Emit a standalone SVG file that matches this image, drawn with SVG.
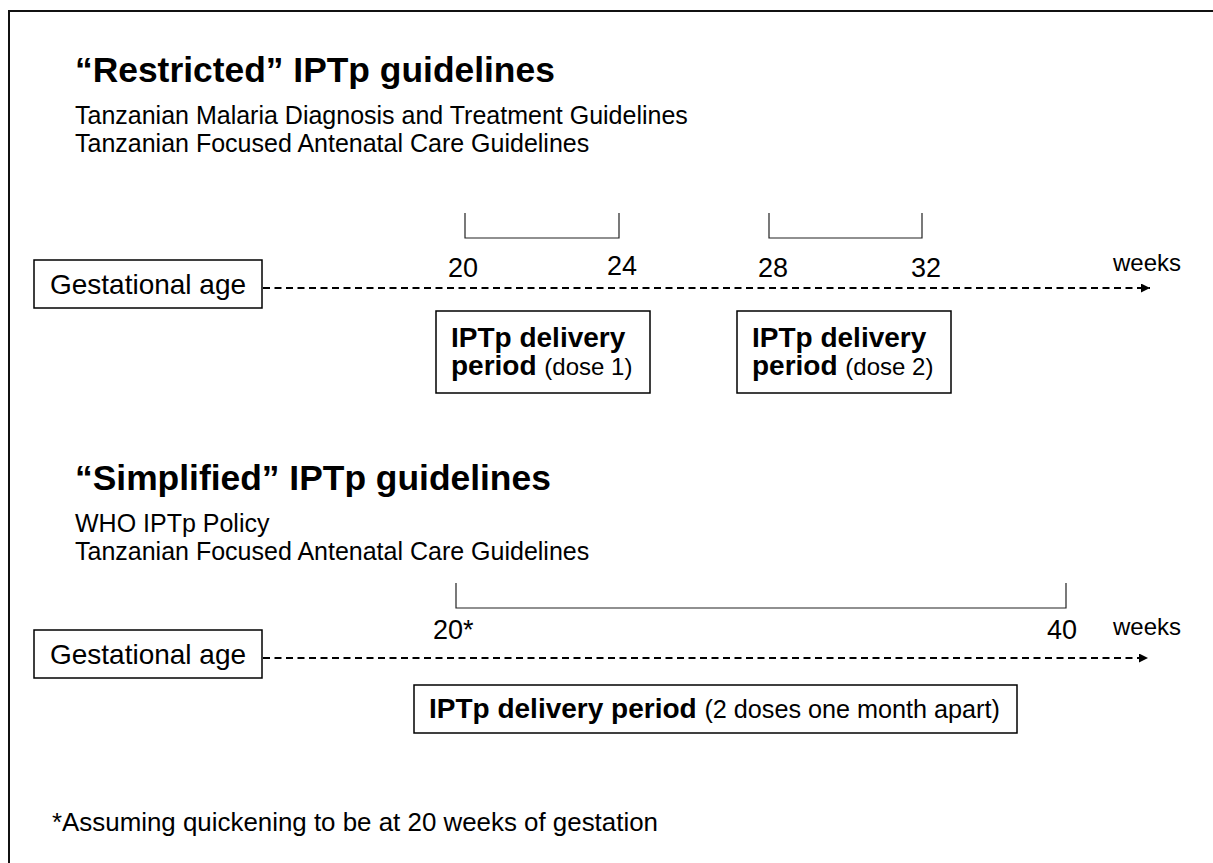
<svg xmlns="http://www.w3.org/2000/svg" width="1213" height="863" viewBox="0 0 1213 863">
<style>
  text { font-family: "Liberation Sans", Arial, sans-serif; fill: #000; }
  .title { font-size: 35.4px; font-weight: bold; }
  .sub { font-size: 25px; }
  .foot { font-size: 25.9px; }
  .num { font-size: 27px; }
  .wk { font-size: 24px; }
  .ga { font-size: 28px; }
  .b { font-size: 28px; font-weight: bold; }
  .n { font-size: 24px; font-weight: normal; }
  .n2 { font-size: 25.2px; font-weight: normal; }
  .box { fill: #fff; stroke: #000; stroke-width: 1.5; }
  .brk { fill: none; stroke: #222; stroke-width: 1.2; }
  .dash { fill: none; stroke: #000; stroke-width: 1.8; stroke-dasharray: 7 4.5; }
</style>
<defs>
  <marker id="arr" viewBox="0 0 10 10" refX="10" refY="5" markerWidth="11" markerHeight="9" markerUnits="userSpaceOnUse" orient="auto">
    <path d="M0,0 L10,5 L0,10 Z" fill="#000"/>
  </marker>
</defs>
<rect width="1213" height="863" fill="#fff"/>
<path d="M9,863 L9,11 L1213,11" fill="none" stroke="#111" stroke-width="2"/>

<g id="section1">
  <text class="title" x="75" y="82">“Restricted” IPTp guidelines</text>
  <text class="sub" x="75" y="124">Tanzanian Malaria Diagnosis and Treatment Guidelines</text>
  <text class="sub" x="75" y="152">Tanzanian Focused Antenatal Care Guidelines</text>
</g>

<g id="ga1">
  <rect class="box" x="34" y="260" width="228" height="48"/>
  <text class="ga" x="148" y="294" text-anchor="middle">Gestational age</text>
</g>

<g id="bracket1">
  <path class="brk" d="M465,213 L465,238 L619,238 L619,213"/>
  <text class="num" x="448" y="277">20</text>
  <text class="num" x="607" y="275">24</text>
</g>
<g id="bracket2">
  <path class="brk" d="M769,213 L769,238 L922,238 L922,213"/>
  <text class="num" x="758" y="277">28</text>
  <text class="num" x="911" y="277">32</text>
</g>
<text class="wk" x="1113" y="271">weeks</text>

<g id="dose1">
  <rect class="box" x="436" y="311" width="214" height="82"/>
  <text class="b" x="451" y="347">IPTp delivery</text>
  <text class="b" x="451" y="375">period <tspan class="n">(dose 1)</tspan></text>
</g>
<g id="dose2">
  <rect class="box" x="737" y="311" width="214" height="82"/>
  <text class="b" x="752" y="347">IPTp delivery</text>
  <text class="b" x="752" y="375">period <tspan class="n">(dose 2)</tspan></text>
</g>

<g id="section2">
  <text class="title" x="75" y="490">“Simplified” IPTp guidelines</text>
  <text class="sub" x="75" y="532">WHO IPTp Policy</text>
  <text class="sub" x="75" y="560">Tanzanian Focused Antenatal Care Guidelines</text>
</g>

<g id="ga2">
  <rect class="box" x="34" y="630" width="228" height="48"/>
  <text class="ga" x="148" y="664" text-anchor="middle">Gestational age</text>
</g>

<g id="bracket3">
  <path class="brk" d="M456,583 L456,608 L1066,608 L1066,583"/>
  <text class="num" x="433" y="639">20*</text>
  <text class="num" x="1047" y="639">40</text>
</g>
<text class="wk" x="1113" y="635">weeks</text>

<g id="period">
  <rect class="box" x="414" y="685" width="603" height="48"/>
  <text class="b" x="429" y="718">IPTp delivery period <tspan class="n2">(2 doses one month apart)</tspan></text>
</g>

<g id="connectors">
  <line class="dash" x1="263" y1="288" x2="1150" y2="288" marker-end="url(#arr)"/>
  <line class="dash" x1="263" y1="658" x2="1148" y2="658" marker-end="url(#arr)"/>
</g>

<text class="foot" x="52" y="831">*Assuming quickening to be at 20 weeks of gestation</text>
</svg>
